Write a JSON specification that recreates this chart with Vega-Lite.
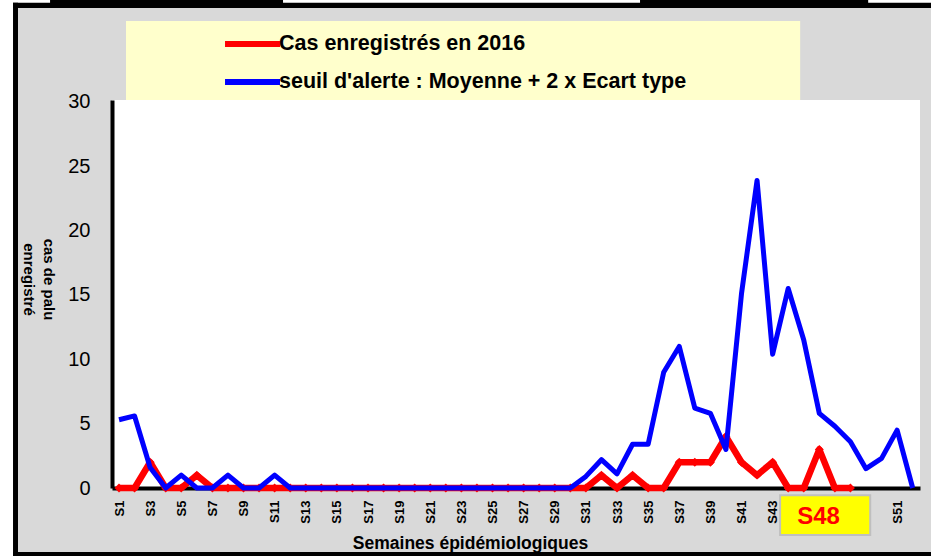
{
  "$schema": "https://vega.github.io/schema/vega-lite/v6.json",
  "width": 808,
  "height": 388,
  "autosize": {"type": "none"},
  "padding": {"left": 112, "top": 100, "right": 11, "bottom": 68},
  "background": "#d9d9d9",
  "view": {"fill": "white", "stroke": null},
  "config": {
    "font": "Liberation Sans",
    "axis": {"labelOverlap": false, "grid": false, "ticks": false},
    "axisX": {"labelOverlap": false, "labelFlush": false, "labelBound": false, "tickCount": 60},
    "legend": {
      "orient": "none",
      "legendX": 133,
      "legendY": -73,
      "direction": "vertical",
      "symbolType": "M-2.69,0H1.31",
      "symbolSize": 756,
      "symbolStrokeWidth": 6,
      "labelFontSize": 21.5,
      "labelFont": "Liberation Sans",
      "labelFontWeight": "bold",
      "labelColor": "black",
      "labelLimit": 700,
      "labelOffset": 0,
      "rowPadding": 9,
      "padding": 0
    }
  },
  "datasets": {
    "semaines": [
      {"semaine": 1, "cas": 0, "seuil": 5.3},
      {"semaine": 2, "cas": 0, "seuil": 5.6},
      {"semaine": 3, "cas": 2, "seuil": 1.6},
      {"semaine": 4, "cas": 0, "seuil": 0},
      {"semaine": 5, "cas": 0, "seuil": 1},
      {"semaine": 6, "cas": 1, "seuil": 0},
      {"semaine": 7, "cas": 0, "seuil": 0},
      {"semaine": 8, "cas": 0, "seuil": 1},
      {"semaine": 9, "cas": 0, "seuil": 0},
      {"semaine": 10, "cas": 0, "seuil": 0},
      {"semaine": 11, "cas": 0, "seuil": 1},
      {"semaine": 12, "cas": 0, "seuil": 0},
      {"semaine": 13, "cas": 0, "seuil": 0},
      {"semaine": 14, "cas": 0, "seuil": 0},
      {"semaine": 15, "cas": 0, "seuil": 0},
      {"semaine": 16, "cas": 0, "seuil": 0},
      {"semaine": 17, "cas": 0, "seuil": 0},
      {"semaine": 18, "cas": 0, "seuil": 0},
      {"semaine": 19, "cas": 0, "seuil": 0},
      {"semaine": 20, "cas": 0, "seuil": 0},
      {"semaine": 21, "cas": 0, "seuil": 0},
      {"semaine": 22, "cas": 0, "seuil": 0},
      {"semaine": 23, "cas": 0, "seuil": 0},
      {"semaine": 24, "cas": 0, "seuil": 0},
      {"semaine": 25, "cas": 0, "seuil": 0},
      {"semaine": 26, "cas": 0, "seuil": 0},
      {"semaine": 27, "cas": 0, "seuil": 0},
      {"semaine": 28, "cas": 0, "seuil": 0},
      {"semaine": 29, "cas": 0, "seuil": 0},
      {"semaine": 30, "cas": 0, "seuil": 0},
      {"semaine": 31, "cas": 0, "seuil": 0.9},
      {"semaine": 32, "cas": 1, "seuil": 2.2},
      {"semaine": 33, "cas": 0, "seuil": 1.1},
      {"semaine": 34, "cas": 1, "seuil": 3.4},
      {"semaine": 35, "cas": 0, "seuil": 3.4},
      {"semaine": 36, "cas": 0, "seuil": 9},
      {"semaine": 37, "cas": 2, "seuil": 11},
      {"semaine": 38, "cas": 2, "seuil": 6.2},
      {"semaine": 39, "cas": 2, "seuil": 5.8},
      {"semaine": 40, "cas": 4, "seuil": 3},
      {"semaine": 41, "cas": 2, "seuil": 15.1},
      {"semaine": 42, "cas": 1, "seuil": 23.9},
      {"semaine": 43, "cas": 2, "seuil": 10.4},
      {"semaine": 44, "cas": 0, "seuil": 15.5},
      {"semaine": 45, "cas": 0, "seuil": 11.5},
      {"semaine": 46, "cas": 3, "seuil": 5.8},
      {"semaine": 47, "cas": 0, "seuil": 4.8},
      {"semaine": 48, "cas": 0, "seuil": 3.6},
      {"semaine": 49, "cas": null, "seuil": 1.5},
      {"semaine": 50, "cas": null, "seuil": 2.3},
      {"semaine": 51, "cas": null, "seuil": 4.5},
      {"semaine": 52, "cas": null, "seuil": 0}
    ],
    "note": [{"label": "S48"}]
  },
  "layer": [
    {
      "data": {"name": "semaines"},
      "transform": [{"filter": "datum.cas != null"}],
      "mark": {"type": "line", "strokeWidth": 6.5, "strokeJoin": "round"},
      "encoding": {
        "x": {
          "field": "semaine",
          "type": "quantitative",
          "scale": {"domain": [0.55, 52.47], "nice": false, "zero": false},
          "axis": {
            "values": [1, 3, 5, 7, 9, 11, 13, 15, 17, 19, 21, 23, 25, 27, 29, 31, 33, 35, 37, 39, 41, 43, 51],
            "tickCount": 60,
            "labelExpr": "'S' + datum.value",
            "labelAngle": -90,
            "labelAlign": "right",
            "labelBaseline": "middle",
            "labelFont": "Liberation Sans",
            "labelFontWeight": "bold",
            "labelFontSize": 13,
            "labelColor": "black",
            "labelPadding": 12,
            "labelOverlap": false,
            "labelFlush": false,
            "labelBound": false,
            "ticks": false,
            "grid": false,
            "domainColor": "black",
            "domainWidth": 4,
            "title": "Semaines épidémiologiques",
            "titleFont": "Liberation Sans",
            "titleFontWeight": "bold",
            "titleFontSize": 17.5,
            "titleColor": "black",
            "titleX": 358,
            "titleY": 55,
            "titleAlign": "center",
            "titleBaseline": "middle"
          }
        },
        "y": {
          "field": "cas",
          "type": "quantitative",
          "scale": {"domain": [0, 30.15], "nice": false, "zero": false},
          "axis": {
            "values": [0, 5, 10, 15, 20, 25, 30],
            "labelFont": "Liberation Sans",
            "labelFontSize": 20,
            "labelColor": "black",
            "labelPadding": 22,
            "labelOverlap": false,
            "ticks": false,
            "grid": false,
            "domainColor": "black",
            "domainWidth": 4,
            "title": ["cas de palu", "enregistré"],
            "titleFont": "Liberation Sans",
            "titleFontWeight": "bold",
            "titleFontSize": 15,
            "titleColor": "black",
            "titleAngle": 90,
            "titleX": -64,
            "titleY": 179,
            "titleAlign": "center",
            "titleBaseline": "middle",
            "titleLineHeight": 20
          }
        },
        "color": {
          "datum": "Cas enregistrés en 2016",
          "scale": {
            "domain": ["Cas enregistrés en 2016", "seuil d'alerte : Moyenne + 2 x Ecart type"],
            "range": ["#ff0000", "#0000ff"]
          },
          "legend": {"title": null}
        }
      }
    },
    {
      "data": {"name": "semaines"},
      "transform": [{"filter": "datum.cas != null"}],
      "mark": {"type": "point", "shape": "diamond", "filled": true, "size": 80, "color": "#ff0000", "opacity": 1},
      "encoding": {
        "x": {"field": "semaine", "type": "quantitative"},
        "y": {"field": "cas", "type": "quantitative"}
      }
    },
    {
      "data": {"name": "semaines"},
      "mark": {"type": "line", "strokeWidth": 5, "strokeJoin": "round"},
      "encoding": {
        "x": {"field": "semaine", "type": "quantitative"},
        "y": {"field": "seuil", "type": "quantitative"},
        "color": {"datum": "seuil d'alerte : Moyenne + 2 x Ecart type"}
      }
    },
    {
      "data": {"name": "note"},
      "mark": {"type": "rect", "fill": "white"},
      "encoding": {
        "x": {"datum": -6.7}, "x2": {"datum": -5.81},
        "y": {"datum": 38}, "y2": {"datum": -5.4}
      }
    },
    {
      "data": {"name": "note"},
      "mark": {"type": "rect", "fill": "white"},
      "encoding": {
        "x": {"datum": -6.7}, "x2": {"datum": 53.2},
        "y": {"datum": 38}, "y2": {"datum": 37.68}
      }
    },
    {
      "data": {"name": "note"},
      "mark": {"type": "rect", "fill": "black"},
      "encoding": {
        "x": {"datum": -3.43}, "x2": {"datum": 11.54},
        "y": {"datum": 38}, "y2": {"datum": 37.6}
      }
    },
    {
      "data": {"name": "note"},
      "mark": {"type": "rect", "fill": "black"},
      "encoding": {
        "x": {"datum": 34.48}, "x2": {"datum": 49.14},
        "y": {"datum": 38}, "y2": {"datum": 37.6}
      }
    },
    {
      "data": {"name": "note"},
      "mark": {"type": "rect", "fill": "black"},
      "encoding": {
        "x": {"datum": -5.81}, "x2": {"datum": 53.2},
        "y": {"datum": 37.7}, "y2": {"datum": 37.3}
      }
    },
    {
      "data": {"name": "note"},
      "mark": {"type": "rect", "fill": "black"},
      "encoding": {
        "x": {"datum": -5.81}, "x2": {"datum": -5.49},
        "y": {"datum": 37.7}, "y2": {"datum": -5.4}
      }
    },
    {
      "data": {"name": "note"},
      "mark": {"type": "rect", "fill": "black"},
      "encoding": {
        "x": {"datum": -5.81}, "x2": {"datum": 53.2},
        "y": {"datum": -4.97}, "y2": {"datum": -5.4}
      }
    },
    {
      "data": {"name": "note"},
      "mark": {"type": "rect", "fill": "#ffffcc"},
      "encoding": {
        "x": {"datum": 1.45}, "x2": {"datum": 44.77},
        "y": {"datum": 36.29}, "y2": {"datum": 30.15}
      }
    },
    {
      "data": {"name": "note"},
      "mark": {"type": "rect", "fill": "#ffff00", "stroke": "#bfbfbf", "strokeWidth": 2},
      "encoding": {
        "x": {"datum": 43.48}, "x2": {"datum": 49.27},
        "y": {"datum": -0.56}, "y2": {"datum": -3.65}
      }
    },
    {
      "data": {"name": "note"},
      "mark": {"type": "text", "color": "#ff0000", "fontSize": 24, "fontWeight": "bold", "font": "Liberation Sans", "align": "center", "baseline": "middle"},
      "encoding": {
        "x": {"datum": 45.95},
        "y": {"datum": -2.25},
        "text": {"field": "label"}
      }
    }
  ]
}
